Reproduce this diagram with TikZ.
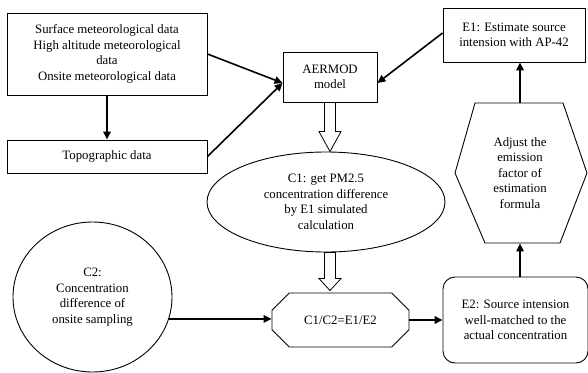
\documentclass[tikz,border=0pt]{standalone}
\usepackage{fontspec}
\setmainfont{Liberation Serif}
\usetikzlibrary{shapes.geometric,shapes.misc,arrows.meta,calc}
\begin{document}
\begin{tikzpicture}[x=1pt,y=-1pt,
  font=\fontsize{12.8}{15.5}\selectfont,
  shapeline/.style={draw, line width=0.9pt},
  box/.style={shapeline, align=center, inner sep=0pt},
  conn/.style={line width=1.6pt, -{Triangle[length=8pt,width=7.5pt]}},
  hollowline/.style={draw, line width=0.8pt, fill=white}]
\useasboundingbox (0,0) rectangle (588,372);

\node[box, minimum width=200pt, minimum height=82pt] (met) at (107,54)
  {Surface meteorological data\\High altitude meteorological\\data\\Onsite meteorological data};
\node[box, minimum width=200pt, minimum height=33pt] (topo) at (107,156.5) {Topographic data};
\node[box, minimum width=94pt, minimum height=50pt] (aermod) at (330,77) {AERMOD\\model};
\node[box, minimum width=142pt, minimum height=54pt] (e1) at (514,35) {E1: Estimate source\\intension with AP-42};
\node[box, align=center, minimum height=140pt, draw=none] (hex) at (520,173)
  {Adjust the\\emission\\factor of\\estimation\\formula};
\draw[shapeline] ($(hex)+(-45,-70)$) -- ($(hex)+(43,-70)$) -- ($(hex)+(67,0)$)
  -- ($(hex)+(40,70)$) -- ($(hex)+(-35,70)$) -- ($(hex)+(-65,0)$) -- cycle;
\node[box, ellipse, minimum width=238pt, minimum height=100pt] (c1) at (326,202)
  {C1: get PM2.5\\concentration difference\\by E1 simulated\\calculation};
\node[box, ellipse, minimum width=159pt, minimum height=150pt] (c2) at (92.5,297)
  {C2:\\Concentration\\difference of\\onsite sampling};
\node[box, chamfered rectangle, chamfered rectangle xsep=13pt, chamfered rectangle ysep=13pt,
  minimum width=137pt, minimum height=54pt] (oct) at (340.5,320) {C1/C2=E1/E2};
\node[box, rounded corners=12pt, minimum width=145pt, minimum height=86pt] (e2) at (515.5,320)
  {E2: Source intension\\well-matched to the\\actual concentration};

\coordinate (ain) at ($(aermod.west)+(0,6)$);
\coordinate (aein) at ($(aermod.east)+(0,6)$);
\draw[conn] (met.east) -- (ain);
\draw[conn] (topo.east) -- (ain);
\draw[conn] (met.south) -- (topo.north);
\draw[conn] ($(e1.west)+(0,-2)$) -- (aein);
\draw[conn] (hex.north) -- (hex.north |- e1.south);
\draw[conn] (e2.north -| hex.south) -- (hex.south);
\draw[conn] (oct.east) -- (oct.east -| e2.west);
\draw[conn] (c2.-16) -- (c2.-16 -| oct.west);

\draw[hollowline] let \p1=(aermod.south), \p2=(c1.north) in
  (\x1-5.5pt,\y1) -- (\x1-5.5pt,\y2+20pt) -- (\x1-11pt,\y2+20pt) -- (\x1,\y2)
  -- (\x1+11pt,\y2+20pt) -- (\x1+5.5pt,\y2+20pt) -- (\x1+5.5pt,\y1) -- cycle;
\draw[hollowline] let \p1=(c1.south), \p2=(oct.north), \p3=(aermod.south) in
  (\x3-5.5pt,\y1) -- (\x3-5.5pt,\y2+14pt) -- (\x3-11pt,\y2+14pt) -- (\x3,\y2+2pt)
  -- (\x3+11pt,\y2+14pt) -- (\x3+5.5pt,\y2+14pt) -- (\x3+5.5pt,\y1) -- cycle;
\end{tikzpicture}
\end{document}
